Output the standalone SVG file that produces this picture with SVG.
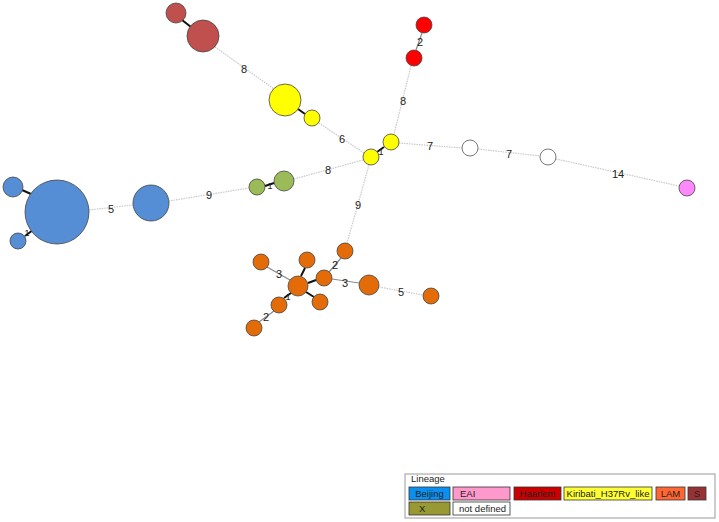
<svg xmlns="http://www.w3.org/2000/svg" width="719" height="522" viewBox="0 0 719 522">
<style>
.n{stroke:#444;stroke-width:0.8}
.blue{fill:#558ED5}.brown{fill:#C0504D}.yel{fill:#FFFF00}.red{fill:#FF0000}.grn{fill:#9BBB59}.org{fill:#E36C09}.pink{fill:#FF88FF}.wht{fill:#FFFFFF;stroke:#555}
.d{stroke:#c8c8c8;stroke-width:1.2;stroke-dasharray:1.5 1;fill:none}
.s{stroke:#888;stroke-width:1.2;fill:none}
.t{stroke:#111;stroke-width:2;fill:none}
.lbl{font-family:"Liberation Sans",Arial,sans-serif;font-size:11px;fill:#222;text-anchor:middle}
.one{font-family:"Liberation Sans",Arial,sans-serif;font-size:9px;fill:#222;text-anchor:middle}
.lg{font-family:"Liberation Sans",Arial,sans-serif;font-size:9.5px;fill:#222}
.lb{stroke:#333;stroke-width:0.8}
</style>
<g id="connectors">
<line class="t" x1="182" y1="20" x2="191" y2="27"/>
<line class="d" x1="215" y1="47" x2="274" y2="89"/>
<line class="t" x1="298" y1="109" x2="305" y2="114"/>
<line class="d" x1="319" y1="123" x2="364" y2="153"/>
<line class="s" x1="422" y1="33" x2="416" y2="50"/>
<line class="d" x1="411" y1="66" x2="394" y2="134"/>
<line class="t" x1="384" y1="147" x2="377" y2="152"/>
<line class="d" x1="399" y1="143" x2="462" y2="148"/>
<line class="d" x1="478" y1="149" x2="540" y2="156"/>
<line class="d" x1="556" y1="159" x2="679" y2="186"/>
<line class="d" x1="363" y1="160" x2="294" y2="179"/>
<line class="d" x1="369" y1="165" x2="347" y2="243"/>
<line class="t" x1="274" y1="183" x2="265" y2="186"/>
<line class="d" x1="249" y1="188" x2="169" y2="201"/>
<line class="d" x1="133" y1="205" x2="89" y2="210"/>
<line class="t" x1="31" y1="194" x2="22" y2="190"/>
<line class="t" x1="33" y1="230" x2="25" y2="236"/>
<line class="s" x1="341" y1="258" x2="329" y2="272"/>
<line class="t" x1="316" y1="280" x2="308" y2="283"/>
<line class="s" x1="332" y1="279" x2="359" y2="283"/>
<line class="d" x1="379" y1="287" x2="423" y2="295"/>
<line class="s" x1="267" y1="267" x2="290" y2="280"/>
<line class="t" x1="305" y1="268" x2="301" y2="276"/>
<line class="t" x1="314" y1="297" x2="306" y2="292"/>
<line class="t" x1="284" y1="298" x2="291" y2="293"/>
<line class="s" x1="274" y1="311" x2="259" y2="322"/>
</g>
<g id="edge-labels">
<text class="lbl" x="244" y="73">8</text>
<text class="lbl" x="342" y="143">6</text>
<text class="lbl" x="420" y="46">2</text>
<text class="lbl" x="403" y="105">8</text>
<text class="lbl" x="430" y="150">7</text>
<text class="lbl" x="509" y="158">7</text>
<text class="lbl" x="618" y="178">14</text>
<text class="lbl" x="328" y="174">8</text>
<text class="lbl" x="358" y="209">9</text>
<text class="lbl" x="209" y="199">9</text>
<text class="lbl" x="111" y="213">5</text>
<text class="lbl" x="335" y="269">2</text>
<text class="lbl" x="345" y="287">3</text>
<text class="lbl" x="401" y="296">5</text>
<text class="lbl" x="279" y="278">3</text>
<text class="lbl" x="266" y="321">2</text>
<text class="one" x="322" y="283">1</text>
<text class="one" x="288" y="300">1</text>
<text class="one" x="381" y="155">1</text>
<text class="one" x="270" y="189">1</text>
<text class="one" x="27" y="236">1</text>
</g>
<g id="node-brown1"><circle class="n brown" cx="176" cy="13" r="10"/></g>
<g id="node-brown2"><circle class="n brown" cx="203" cy="36" r="16"/></g>
<g id="node-yellow1"><circle class="n yel" cx="285" cy="100" r="16"/></g>
<g id="node-yellow2"><circle class="n yel" cx="312" cy="118" r="8"/></g>
<g id="node-red1"><circle class="n red" cx="424" cy="25" r="8"/></g>
<g id="node-red2"><circle class="n red" cx="414" cy="58" r="8"/></g>
<g id="node-yellow3"><circle class="n yel" cx="391" cy="142" r="8"/></g>
<g id="node-yellow4"><circle class="n yel" cx="371" cy="157" r="8"/></g>
<g id="node-white1"><circle class="n wht" cx="470" cy="148" r="8"/></g>
<g id="node-white2"><circle class="n wht" cx="548" cy="157" r="8"/></g>
<g id="node-pink"><circle class="n pink" cx="687" cy="188" r="8"/></g>
<g id="node-green1"><circle class="n grn" cx="284" cy="181" r="10"/></g>
<g id="node-green2"><circle class="n grn" cx="257" cy="187" r="8"/></g>
<g id="node-blue1"><circle class="n blue" cx="151" cy="203" r="18"/></g>
<g id="node-blue2"><circle class="n blue" cx="57" cy="212" r="32"/></g>
<g id="node-blue3"><circle class="n blue" cx="13" cy="187" r="10"/></g>
<g id="node-blue4"><circle class="n blue" cx="18" cy="241" r="8"/></g>
<g id="node-orange1"><circle class="n org" cx="345" cy="251" r="8"/></g>
<g id="node-orange2"><circle class="n org" cx="261" cy="262" r="8"/></g>
<g id="node-orange3"><circle class="n org" cx="307" cy="260" r="8"/></g>
<g id="node-orange4"><circle class="n org" cx="298" cy="286" r="10"/></g>
<g id="node-orange5"><circle class="n org" cx="324" cy="278" r="8"/></g>
<g id="node-orange6"><circle class="n org" cx="369" cy="285" r="10"/></g>
<g id="node-orange7"><circle class="n org" cx="431" cy="296" r="8"/></g>
<g id="node-orange8"><circle class="n org" cx="279" cy="305" r="8"/></g>
<g id="node-orange9"><circle class="n org" cx="320" cy="302" r="8"/></g>
<g id="node-orange10"><circle class="n org" cx="254" cy="328" r="8"/></g>
<g id="legend">
<rect x="405" y="474" width="310" height="44" fill="#fff" stroke="#999" stroke-width="1"/>
<text class="lg" x="411" y="482" font-size="9">Lineage</text>
<rect class="lb" x="409" y="487" width="41" height="13" fill="#0A90F0"/>
<text class="lg" x="429.5" y="497" text-anchor="middle" fill="#113">Beijing</text>
<rect class="lb" x="453" y="487" width="57" height="13" fill="#FF99CC"/>
<text class="lg" x="460" y="497">EAI</text>
<rect class="lb" x="514" y="487" width="47" height="13" fill="#CC0000"/>
<text class="lg" x="537.5" y="497" text-anchor="middle" fill="#511">Haarlem</text>
<rect class="lb" x="564" y="487" width="88" height="13" fill="#FFFF33"/>
<text class="lg" x="608" y="497" text-anchor="middle" font-size="9">Kiribati_H37Rv_like</text>
<rect class="lb" x="656" y="487" width="29" height="13" fill="#FF6633"/>
<text class="lg" x="670.5" y="497" text-anchor="middle">LAM</text>
<rect class="lb" x="688" y="487" width="18" height="13" fill="#993333"/>
<text class="lg" x="697" y="497" text-anchor="middle">S</text>
<rect class="lb" x="409" y="502" width="41" height="13" fill="#999933"/>
<text class="lg" x="419" y="512">X</text>
<rect class="lb" x="453" y="502" width="57" height="13" fill="#FFFFFF"/>
<text class="lg" x="459" y="512">not defined</text>
</g>
</svg>
